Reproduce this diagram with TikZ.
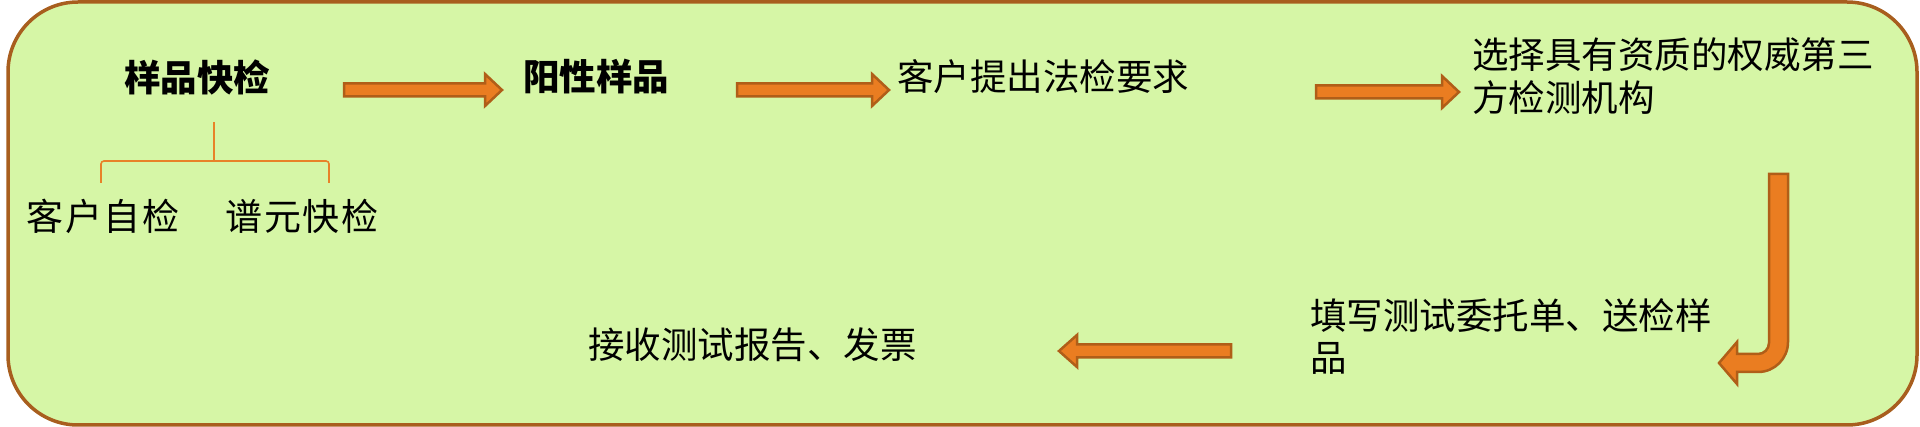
\documentclass[tikz,border=0pt]{standalone}
\usepackage{fontspec}
\newfontfamily\cjk{Noto Sans CJK SC}
\definecolor{boxfill}{RGB}{214,246,166}
\definecolor{boxline}{RGB}{168,94,30}
\definecolor{arrfill}{RGB}{234,125,33}
\definecolor{arrline}{RGB}{176,94,24}
\definecolor{brk}{RGB}{232,130,40}
\tikzset{
  lbl/.style={inner sep=0pt, text=black, font=\cjk\fontsize{36.5}{43}\selectfont},
  boldlbl/.style={inner sep=0pt, text=black, font=\cjk\bfseries\fontsize{36.5}{43}\selectfont},
  sublbl/.style={inner sep=0pt, text=black, font=\cjk\addfontfeature{LetterSpace=5}\fontsize{37}{43}\selectfont},
  blockarrow/.style={fill=arrfill, draw=arrline, line width=2.5pt, line join=miter},
  bracketline/.style={draw=brk, line width=1.6pt, rounded corners=3pt},
  frame/.style={fill=boxfill, draw=boxline, line width=3.5pt, rounded corners=70pt}
}
\newcommand\myRightBlockArrow[3]{% x0, x1, y
  \filldraw[blockarrow] (#1,#3-6.5) -- (#2-17,#3-6.5) -- (#2-17,#3-16) -- (#2,#3) -- (#2-17,#3+16) -- (#2-17,#3+6.5) -- (#1,#3+6.5) -- cycle;}
\newcommand\myLeftBlockArrow[3]{% tip x, tail x, y
  \filldraw[blockarrow] (#2,#3-6.5) -- (#1+18,#3-6.5) -- (#1+18,#3-16) -- (#1,#3) -- (#1+18,#3+16) -- (#1+18,#3+6.5) -- (#2,#3+6.5) -- cycle;}
\begin{document}
\begin{tikzpicture}[x=1pt,y=-1pt]
  \fill[white] (0,0) rectangle (1920,427);
  \useasboundingbox (0,0) rectangle (1920,427);
  \path[frame] (8,2) rectangle (1917,425);

  % top row texts
  \node[boldlbl, anchor=base] (n1) at (197,91.5) {样品快检};
  \node[boldlbl, anchor=base west] (n2) at (523,91) {阳性样品};
  \node[lbl, anchor=base west] (n3) at (897,91) {客户提出法检要求};
  \node[lbl, anchor=base west] (n4a) at (1472,69) {选择具有资质的权威第三};
  \node[lbl, anchor=base west] (n4b) at (1472,112) {方检测机构};
  % bottom row texts
  \node[lbl, anchor=base west] (n5a) at (1310,330) {填写测试委托单、送检样};
  \node[lbl, anchor=base west] (n5b) at (1310,372) {品};
  \node[lbl, anchor=base west] (n6) at (588,359) {接收测试报告、发票};
  % sub texts
  \node[sublbl, anchor=base] (s1) at (103,231) {客户自检};
  \node[sublbl, anchor=base] (s2) at (302,231) {谱元快检};

  % bracket
  \coordinate (bt) at (214,122);
  \coordinate (bm) at (214,161);
  \draw[bracketline] (bt) -- (bm);
  \draw[bracketline] (101,183) -- (101,161) -- (329,161) -- (329,183);

  % arrows
  \myRightBlockArrow{344}{502}{90}
  \myRightBlockArrow{737}{889}{90}
  \myRightBlockArrow{1316}{1459}{92}
  \myLeftBlockArrow{1059}{1231}{351}
  % U-turn arrow
  \filldraw[blockarrow] (1769,174) -- (1788,174) -- (1788,342)
     .. controls (1788,358.6) and (1774.6,372) .. (1758,372)
     -- (1737,372) -- (1737,384) -- (1719,363) -- (1737,342) -- (1737,354) -- (1758,354)
     .. controls (1764,354) and (1769,349) .. (1769,343) -- cycle;
\end{tikzpicture}
\end{document}
